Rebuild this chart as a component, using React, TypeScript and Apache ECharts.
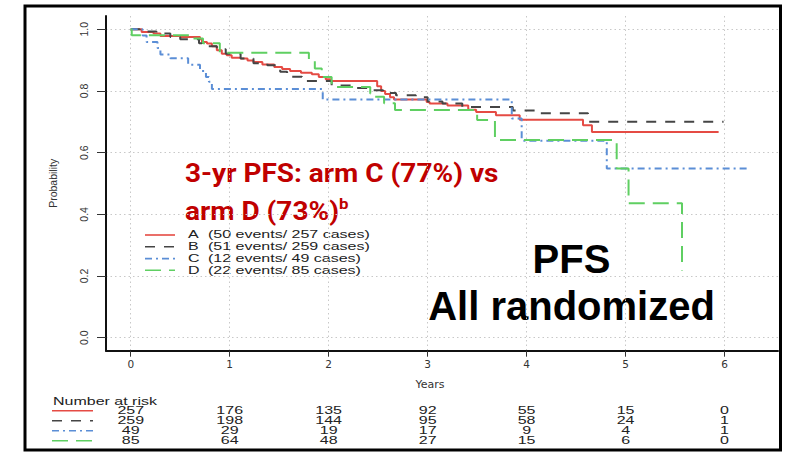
import React, { useEffect, useRef } from 'react';
import * as echarts from 'echarts';

// ---- data ----
const xTicks = [0, 1, 2, 3, 4, 5, 6];
const yTicks = [0, 0.2, 0.4, 0.6, 0.8, 1.0];

const armLetters = ['A', 'B', 'C', 'D'];
const armLegend = [
  '(50 events/ 257 cases)',
  '(51 events/ 259 cases)',
  '(12 events/ 49 cases)',
  '(22 events/ 85 cases)',
];

const armA: [number, number][] = [
  [0, 1], [0.11, 0.991], [0.23, 0.986], [0.3, 0.978], [0.5, 0.975], [0.7, 0.968], [0.72, 0.959],
  [0.77, 0.954], [0.82, 0.945], [0.87, 0.932], [0.92, 0.921], [0.97, 0.916], [1.02, 0.908],
  [1.11, 0.905], [1.18, 0.899], [1.24, 0.894], [1.33, 0.886], [1.45, 0.878], [1.53, 0.871],
  [1.61, 0.865], [1.72, 0.859], [1.83, 0.854], [1.9, 0.845], [1.97, 0.838], [2.02, 0.832],
  [2.49, 0.815], [2.53, 0.8], [2.57, 0.79], [2.62, 0.78], [2.66, 0.772], [2.99, 0.764],
  [3.02, 0.759], [3.2, 0.753], [3.41, 0.739], [3.49, 0.732], [3.69, 0.721], [3.93, 0.707],
  [4.57, 0.689], [4.66, 0.667], [5.94, 0.667],
];
const armB: [number, number][] = [
  [0, 1], [0.09, 0.993], [0.26, 0.986], [0.4, 0.975], [0.5, 0.968], [0.69, 0.955], [0.72, 0.945],
  [0.87, 0.935], [0.96, 0.921], [1.11, 0.905], [1.24, 0.89], [1.38, 0.883], [1.51, 0.862],
  [1.58, 0.846], [1.73, 0.832], [2.03, 0.818], [2.25, 0.81], [2.4, 0.802], [2.55, 0.793],
  [2.68, 0.786], [2.88, 0.78], [3.0, 0.766], [3.15, 0.759], [3.35, 0.748], [3.86, 0.737],
  [4.1, 0.728], [4.62, 0.7], [5.99, 0.7],
];
const armC: [number, number][] = [
  [0, 1], [0.12, 0.98], [0.16, 0.959], [0.27, 0.939], [0.3, 0.918], [0.4, 0.906], [0.58, 0.885],
  [0.7, 0.865], [0.76, 0.845], [0.79, 0.83], [0.82, 0.806], [1.94, 0.772], [3.85, 0.711],
  [3.95, 0.639], [4.81, 0.549], [6.26, 0.549],
];
const armD: [number, number][] = [
  [0, 1], [0.01, 0.981], [0.62, 0.97], [0.73, 0.955], [0.9, 0.924], [1.8, 0.9], [1.86, 0.873],
  [1.93, 0.845], [2.03, 0.813], [2.42, 0.792], [2.46, 0.781], [2.56, 0.76], [2.67, 0.738],
  [3.5, 0.706], [3.68, 0.641], [4.91, 0.549], [5.03, 0.436], [5.57, 0.218],
];

const riskTimes = [0, 1, 2, 3, 4, 5, 6];
const riskA = [257, 176, 135, 92, 55, 15, 0];
const riskB = [259, 198, 144, 95, 58, 24, 1];
const riskC = [49, 29, 19, 17, 9, 4, 1];
const riskD = [85, 64, 48, 27, 15, 6, 0];

// ---- styles ----
const armColors = ['#e54b44', '#454545', '#5b8ed6', '#5fcf62'];
const armDash: any[] = ['solid', [10, 9], [7, 4, 2, 4], [16, 8]];
const rFont = 'Liberation Sans, Arial, sans-serif';
const stretch = 1.57;
const noteColor = '#c00000';
const noteFont = 'Roboto';
const noteStretch = 1.12;

export default function App() {
  const ref = useRef<HTMLDivElement>(null);
  useEffect(() => {
    if (!ref.current) return;
    const chart = echarts.init(ref.current, undefined, { renderer: 'svg' });
    const arms = [armA, armB, armC, armD];
    const riskRows = [riskA, riskB, riskC, riskD];
    const riskData: number[][] = [];
    riskRows.forEach((row, i) => row.forEach((v, j) => riskData.push([riskTimes[j], i, v])));

    const legendRowsY = [235, 246.8, 258.6, 270.3];
    const tableRowsY = [410.7, 420.7, 430.7, 440.7];
    const graphics: any[] = [
      {
        type: 'rect',
        shape: { x: 25, y: 6, width: 755.5, height: 444 },
        style: { fill: 'none', stroke: '#000', lineWidth: 3 },
        z: 10,
      },
      {
        type: 'text', x: 185, y: 173, scaleX: noteStretch,
        style: {
          text: '3-yr PFS: arm C (77%) vs', fill: noteColor,
          fontFamily: noteFont, fontWeight: 'bold', fontSize: 25,
          align: 'left', verticalAlign: 'middle',
        },
      },
      {
        type: 'text', x: 185, y: 211, scaleX: noteStretch,
        style: {
          text: '{m|arm D (73%)}{s|b}', align: 'left', verticalAlign: 'middle',
          rich: {
            m: { fill: noteColor, fontFamily: noteFont, fontWeight: 'bold', fontSize: 25, lineHeight: 30 },
            s: { fill: noteColor, fontFamily: noteFont, fontWeight: 'bold', fontSize: 15, verticalAlign: 'top' },
          },
        },
      },
      {
        type: 'text', x: 571.5, y: 259,
        style: { text: 'PFS', fill: '#000', fontFamily: 'Liberation Sans', fontWeight: 'bold', fontSize: 40, align: 'center', verticalAlign: 'middle' },
      },
      {
        type: 'text', x: 571.5, y: 306,
        style: { text: 'All randomized', fill: '#000', fontFamily: 'Liberation Sans', fontWeight: 'bold', fontSize: 40, align: 'center', verticalAlign: 'middle' },
      },
      {
        type: 'text', x: 53, y: 401.7, scaleX: stretch,
        style: { text: 'Number at risk', fill: '#222', fontFamily: rFont, fontSize: 10.2, align: 'left', verticalAlign: 'middle' },
      },
    ];
    armLetters.forEach((letter, i) => {
      const y = legendRowsY[i];
      graphics.push({
        type: 'line', shape: { x1: 145, y1: y, x2: 175, y2: y },
        style: { stroke: armColors[i], lineWidth: 1.6, lineDash: armDash[i] === 'solid' ? null : armDash[i] },
      });
      graphics.push({
        type: 'text', x: 188, y, scaleX: stretch,
        style: { text: letter, fill: '#222', fontFamily: rFont, fontSize: 10.2, align: 'left', verticalAlign: 'middle' },
      });
      graphics.push({
        type: 'text', x: 208, y, scaleX: stretch,
        style: { text: armLegend[i], fill: '#222', fontFamily: rFont, fontSize: 10.2, align: 'left', verticalAlign: 'middle' },
      });
      const ty = tableRowsY[i];
      graphics.push({
        type: 'line', shape: { x1: 52, y1: ty, x2: 93, y2: ty },
        style: { stroke: armColors[i], lineWidth: 1.6, lineDash: armDash[i] === 'solid' ? null : armDash[i] },
      });
    });

    const lineSeries = arms.map((data, i) => ({
      type: 'line',
      name: armLetters[i],
      data,
      step: 'end',
      showSymbol: false,
      symbol: 'none',
      xAxisIndex: 0,
      yAxisIndex: 0,
      lineStyle: { color: armColors[i], width: 2, type: armDash[i] },
      z: 3,
    }));

    chart.setOption({
      animation: false,
      backgroundColor: '#fff',
      grid: [
        { left: 106, top: 16, width: 672, height: 334.7 },
        { left: 106, top: 405.7, width: 672, height: 40 },
      ],
      xAxis: [
        {
          type: 'value', gridIndex: 0, min: -0.25, max: 6.54,
          name: 'Years', nameLocation: 'middle', nameGap: 28,
          nameTextStyle: { fontFamily: 'DejaVu Sans', fontSize: 11, color: '#333', padding: [0, 24, 0, 0] },
          axisLine: { show: true, onZero: false, lineStyle: { color: '#111', width: 2 } },
          axisTick: { show: true, length: 6, customValues: xTicks, lineStyle: { color: '#333', width: 1 } },
          axisLabel: { customValues: xTicks, margin: 8, fontFamily: 'DejaVu Sans', fontSize: 10.5, color: '#333' },
          splitLine: { show: true, lineStyle: { color: '#c8c8c8', type: [1.5, 3], width: 1 } },
        },
        { type: 'value', gridIndex: 1, min: -0.25, max: 6.54, show: false },
      ],
      yAxis: [
        {
          type: 'value', gridIndex: 0, min: -0.042, max: 1.043,
          name: 'Probability', nameLocation: 'middle', nameGap: 48,
          nameTextStyle: { fontFamily: rFont, fontSize: 10.5, color: '#333' },
          axisLine: { show: true, onZero: false, lineStyle: { color: '#111', width: 2 } },
          axisTick: { show: true, length: 9, customValues: yTicks, lineStyle: { color: '#333', width: 1 } },
          axisLabel: {
            customValues: yTicks, rotate: 90, margin: 17, fontFamily: rFont, fontSize: 10.5, color: '#333',
            formatter: (v: number) => v.toFixed(1),
          },
          splitLine: { show: true, lineStyle: { color: '#c8c8c8', type: [1.5, 3], width: 1 } },
        },
        { type: 'category', gridIndex: 1, data: armLetters, inverse: true, show: false },
      ],
      series: [
        ...lineSeries,
        {
          type: 'custom',
          xAxisIndex: 1,
          yAxisIndex: 1,
          data: riskData,
          silent: true,
          clip: false,
          renderItem: (params: any, api: any) => {
            const p = api.coord([api.value(0), api.value(1)]);
            return {
              type: 'text',
              x: p[0],
              y: p[1],
              scaleX: stretch,
              style: {
                text: String(api.value(2)),
                fontFamily: rFont,
                fontSize: 10.2,
                fill: '#222',
                align: 'center',
                verticalAlign: 'middle',
              },
            };
          },
        },
      ],
      graphic: graphics,
    });
    return () => chart.dispose();
  }, []);
  return <div ref={ref} style={{ position: 'absolute', left: 0, top: 0, width: 790, height: 453 }} />;
}
